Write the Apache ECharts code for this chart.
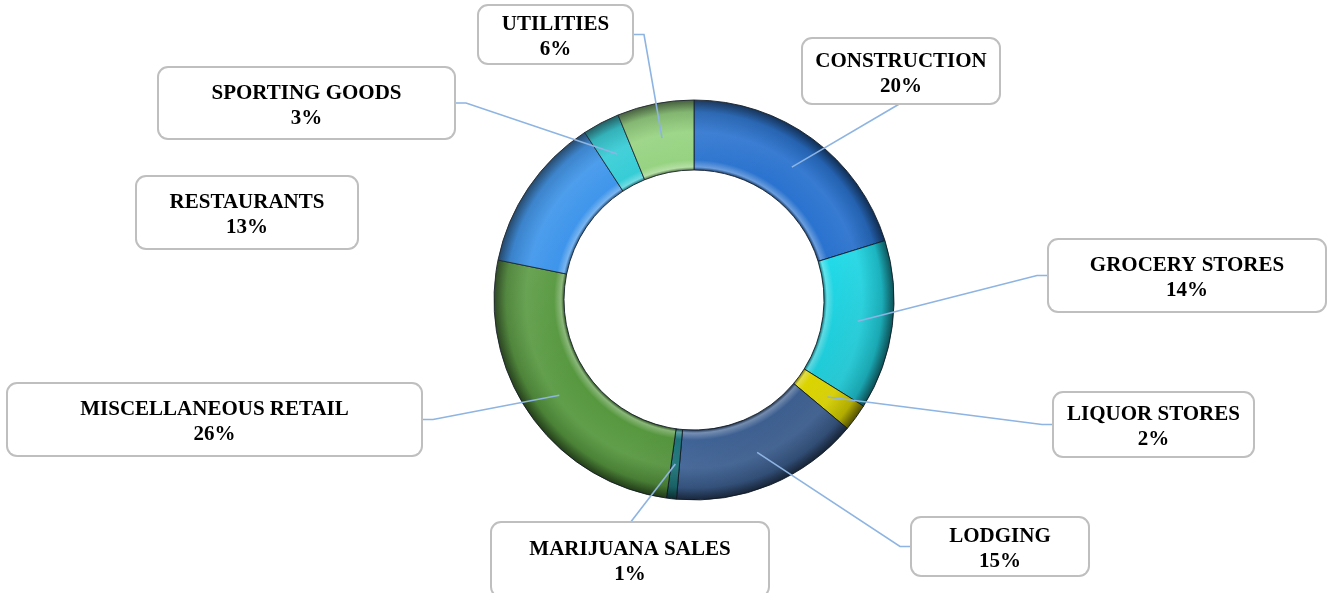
<!DOCTYPE html>
<html><head><meta charset="utf-8">
<script src="https://cdn.jsdelivr.net/npm/echarts@6/dist/echarts.min.js"></script>
<style>html,body{margin:0;padding:0;background:#fff}#c{width:1327px;height:593px}</style>
</head><body><div id="c"></div>
<script>
// ---- data ----
const categories = ['CONSTRUCTION','GROCERY STORES','LIQUOR STORES','LODGING','MARIJUANA SALES','MISCELLANEOUS RETAIL','RESTAURANTS','SPORTING GOODS','UTILITIES'];
const shares = [20.2, 13.7, 2.2, 15.3, 0.8, 26.0, 12.6, 3.0, 6.2];

// ---- styles / layout ----
const sliceColors = ['#2A73CF','#22DCEA','#EEE600','#42679C','#1E787C','#57983F','#3590EA','#2CCAD4','#92D17C'];
const CX = 694, CY = 300, R_IN = 130, R_OUT = 200, R_LINE = 165;
const LINE_H = 25, TEXT_SHIFT = 3;
const boxes = [
  {cx: 901,   cy: 71,    w: 196, h: 64, side: 'bottom'},
  {cx: 1187,  cy: 275.5, w: 276, h: 71, side: 'left'},
  {cx: 1153.5,cy: 424.5, w: 199, h: 63, side: 'left'},
  {cx: 1000,  cy: 546.5, w: 176, h: 57, side: 'left'},
  {cx: 630,   cy: 559.5, w: 276, h: 73, side: 'top'},
  {cx: 214.5, cy: 419.5, w: 413, h: 71, side: 'right'},
  {cx: 247,   cy: 212.5, w: 220, h: 71, side: 'none'},
  {cx: 306.5, cy: 103,   w: 295, h: 70, side: 'right'},
  {cx: 555.5, cy: 34.5,  w: 153, h: 57, side: 'right'}
];

function shade(hex, f) {
  const n = parseInt(hex.slice(1), 16);
  let r = (n >> 16) & 255, g = (n >> 8) & 255, b = n & 255;
  const t = f < 0 ? 0 : 255, p = Math.abs(f);
  r = Math.round((t - r) * p + r); g = Math.round((t - g) * p + g); b = Math.round((t - b) * p + b);
  return 'rgb(' + r + ',' + g + ',' + b + ')';
}
function tube(c) {
  return {type: 'radial', x: CX, y: CY, r: R_OUT, global: true, colorStops: [
    {offset: 0.650, color: shade(c, -0.45)},
    {offset: 0.665, color: shade(c, 0.30)},
    {offset: 0.70,  color: c},
    {offset: 0.84,  color: shade(c, 0.06)},
    {offset: 0.94,  color: shade(c, -0.15)},
    {offset: 1.0,   color: shade(c, -0.6)}
  ]};
}

const mainData = categories.map((n, i) => ({name: n, value: shares[i], itemStyle: {color: tube(sliceColors[i])}}));
const shadeData = categories.map((n, i) => ({name: n, value: shares[i]}));
const labelData = categories.map((n, i) => {
  const spare = (boxes[i].h - 2 * LINE_H) / 2;
  return {
    name: n, value: shares[i],
    label: {width: boxes[i].w, padding: [spare + TEXT_SHIFT, 0, spare - TEXT_SHIFT, 0]},
    labelLine: {show: boxes[i].side !== 'none'}
  };
});

const chart = echarts.init(document.getElementById('c'), null, {renderer: 'canvas'});
chart.setOption({
  backgroundColor: '#fff',
  animation: false,
  series: [
    {
      type: 'pie', center: [CX, CY], radius: [R_IN, R_OUT], startAngle: 90, clockwise: true,
      silent: true, z: 2, label: {show: false}, labelLine: {show: false},
      itemStyle: {borderColor: 'rgba(15,25,35,0.85)', borderWidth: 1},
      data: mainData
    },
    {
      type: 'pie', center: [CX, CY], radius: [R_IN, R_OUT], startAngle: 90, clockwise: true,
      silent: true, z: 3, label: {show: false}, labelLine: {show: false},
      itemStyle: {color: {type: 'linear', x: CX - R_OUT, y: CY - R_OUT, x2: CX + R_OUT, y2: CY + R_OUT, global: true,
        colorStops: [{offset: 0, color: 'rgba(255,255,255,0.12)'}, {offset: 0.45, color: 'rgba(255,255,255,0)'},
                     {offset: 0.6, color: 'rgba(0,0,0,0)'}, {offset: 1, color: 'rgba(0,0,0,0.22)'}]}},
      data: shadeData
    },
    {
      type: 'pie', center: [CX, CY], radius: [R_IN, R_LINE], startAngle: 90, clockwise: true,
      silent: true, z: 4, avoidLabelOverlap: false, percentPrecision: 0,
      itemStyle: {color: 'rgba(0,0,0,0)'},
      label: {
        show: true, position: 'outside', formatter: '{b}\n{d}%',
        fontFamily: 'Liberation Serif, Times New Roman, serif', fontWeight: 'bold', fontSize: 21, lineHeight: LINE_H,
        color: '#000', backgroundColor: '#fff', borderColor: '#BFBFBF', borderWidth: 2, borderRadius: 9,
        align: 'center', verticalAlign: 'top'
      },
      labelLine: {show: true, length: 10, length2: 10, lineStyle: {color: '#8DB4E2', width: 1.6}},
      labelLayout: function (p) {
        const b = boxes[p.dataIndex];
        const res = {x: b.cx, y: b.cy - b.h / 2, align: 'center', verticalAlign: 'top'};
        const pts = p.labelLinePoints;
        if (pts && b.side !== 'none') {
          const s = pts[0];
          let end, mid;
          if (b.side === 'left')   { end = [b.cx - b.w / 2, b.cy]; mid = [end[0] - 12, end[1]]; }
          if (b.side === 'right')  { end = [b.cx + b.w / 2, b.cy]; mid = [end[0] + 12, end[1]]; }
          if (b.side === 'top')    { end = [b.cx, b.cy - b.h / 2]; mid = end; }
          if (b.side === 'bottom') { end = [b.cx, b.cy + b.h / 2]; mid = end; }
          res.labelLinePoints = [s, mid, end];
        }
        return res;
      },
      data: labelData
    }
  ]
});
</script></body></html>
